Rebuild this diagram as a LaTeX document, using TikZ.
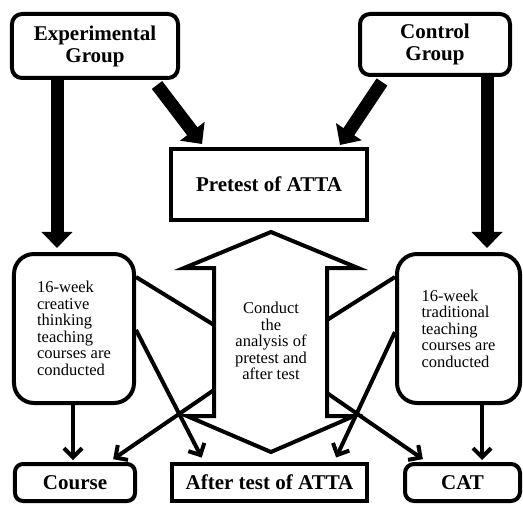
\documentclass[tikz,border=0pt]{standalone}
\usepackage{fontspec}
\setmainfont{Liberation Serif}
\usetikzlibrary{arrows.meta}
\tikzset{
  box/.style={draw, line width=4bp, inner sep=0pt, align=center},
  title/.style={font=\fontsize{21bp}{22bp}\selectfont\bfseries},
  body/.style={font=\fontsize{16.5bp}{16.5bp}\selectfont},
  thick arrow/.style={line width=13bp, -{Triangle[width=30bp,length=16bp]}},
  thin arrow/.style={line width=4bp, -{Straight Barb[length=9bp,width=18bp]}},
  thin line/.style={line width=4bp},
}
\begin{document}
\begin{tikzpicture}[x=1bp,y=-1bp]
\useasboundingbox (0,0) rectangle (523,506);
% nodes
\node[box, title, rounded corners=10bp, minimum width=166bp, minimum height=64bp] (exp) at (95,46) {Experimental\\Group};
\node[box, title, rounded corners=10bp, minimum width=150bp, minimum height=61bp] (ctrl) at (435,44.5) {Control\\Group};
\node[box, title, minimum width=196bp, minimum height=71bp] (pre) at (269,184.5) {Pretest of ATTA};
\node[box, body, align=left, rounded corners=20bp, minimum width=120bp, minimum height=149bp] (left) at (74,328.5) {16-week\\creative\\thinking\\teaching\\courses are\\conducted};
\node[box, body, align=left, rounded corners=20bp, minimum width=123bp, minimum height=149bp] (right) at (458.5,328.5) {16-week\\traditional\\teaching\\courses are\\conducted};
\node[box, title, rounded corners=8bp, minimum width=120bp, minimum height=37bp] (course) at (75,482.5) {Course};
\node[box, title, minimum width=195bp, minimum height=37bp] (after) at (269.5,482.5) {After test of ATTA};
\node[box, title, rounded corners=9bp, minimum width=115bp, minimum height=37bp] (cat) at (462.5,482.5) {CAT};
% double arrow
\draw[line width=4bp, line join=miter, fill=white]
  (271,232) -- (358,268) -- (327,268) -- (327,416) -- (354,416) -- (271,452)
  -- (187,416) -- (214,416) -- (214,268) -- (184,268) -- cycle;
\node[body, align=center, inner sep=0pt] (mid) at (271,341) {Conduct\\the\\analysis of\\pretest and\\after test};
\coordinate (sl1) at (214,325);
\coordinate (sl2) at (214,390);
\coordinate (sr1) at (327,320);
\coordinate (sr2) at (327,393);
% thick arrows
\draw[thick arrow, shorten >=4bp] (57,0 |- exp.south) -- (57,0 |- left.north);
\draw[thick arrow, shorten >=4bp] (487,0 |- ctrl.south) -- (487,0 |- right.north);
\draw[thick arrow] (157,85) -- (202,144);
\draw[thick arrow] (382,82) -- (340,145);
% thin arrows
\draw[thin arrow, shorten >=2bp] (73,0 |- left.south) -- (73,0 |- course.north);
\draw[thin arrow, shorten >=2bp] (482,0 |- right.south) -- (482,0 |- cat.north);
\draw[thin line] (left.east |- 0,277) -- (sl1);
\draw[thin arrow, shorten >=5bp] (left.east |- 0,330) -- (204,0 |- after.north);
\draw[thin arrow, shorten >=5bp] (sl2) -- (109,0 |- course.north);
\draw[thin line] (right.west |- 0,277) -- (sr1);
\draw[thin arrow, shorten >=5bp] (right.west |- 0,332) -- (334,0 |- after.north);
\draw[thin arrow, shorten >=5bp] (sr2) -- (427,0 |- cat.north);
\end{tikzpicture}
\end{document}
